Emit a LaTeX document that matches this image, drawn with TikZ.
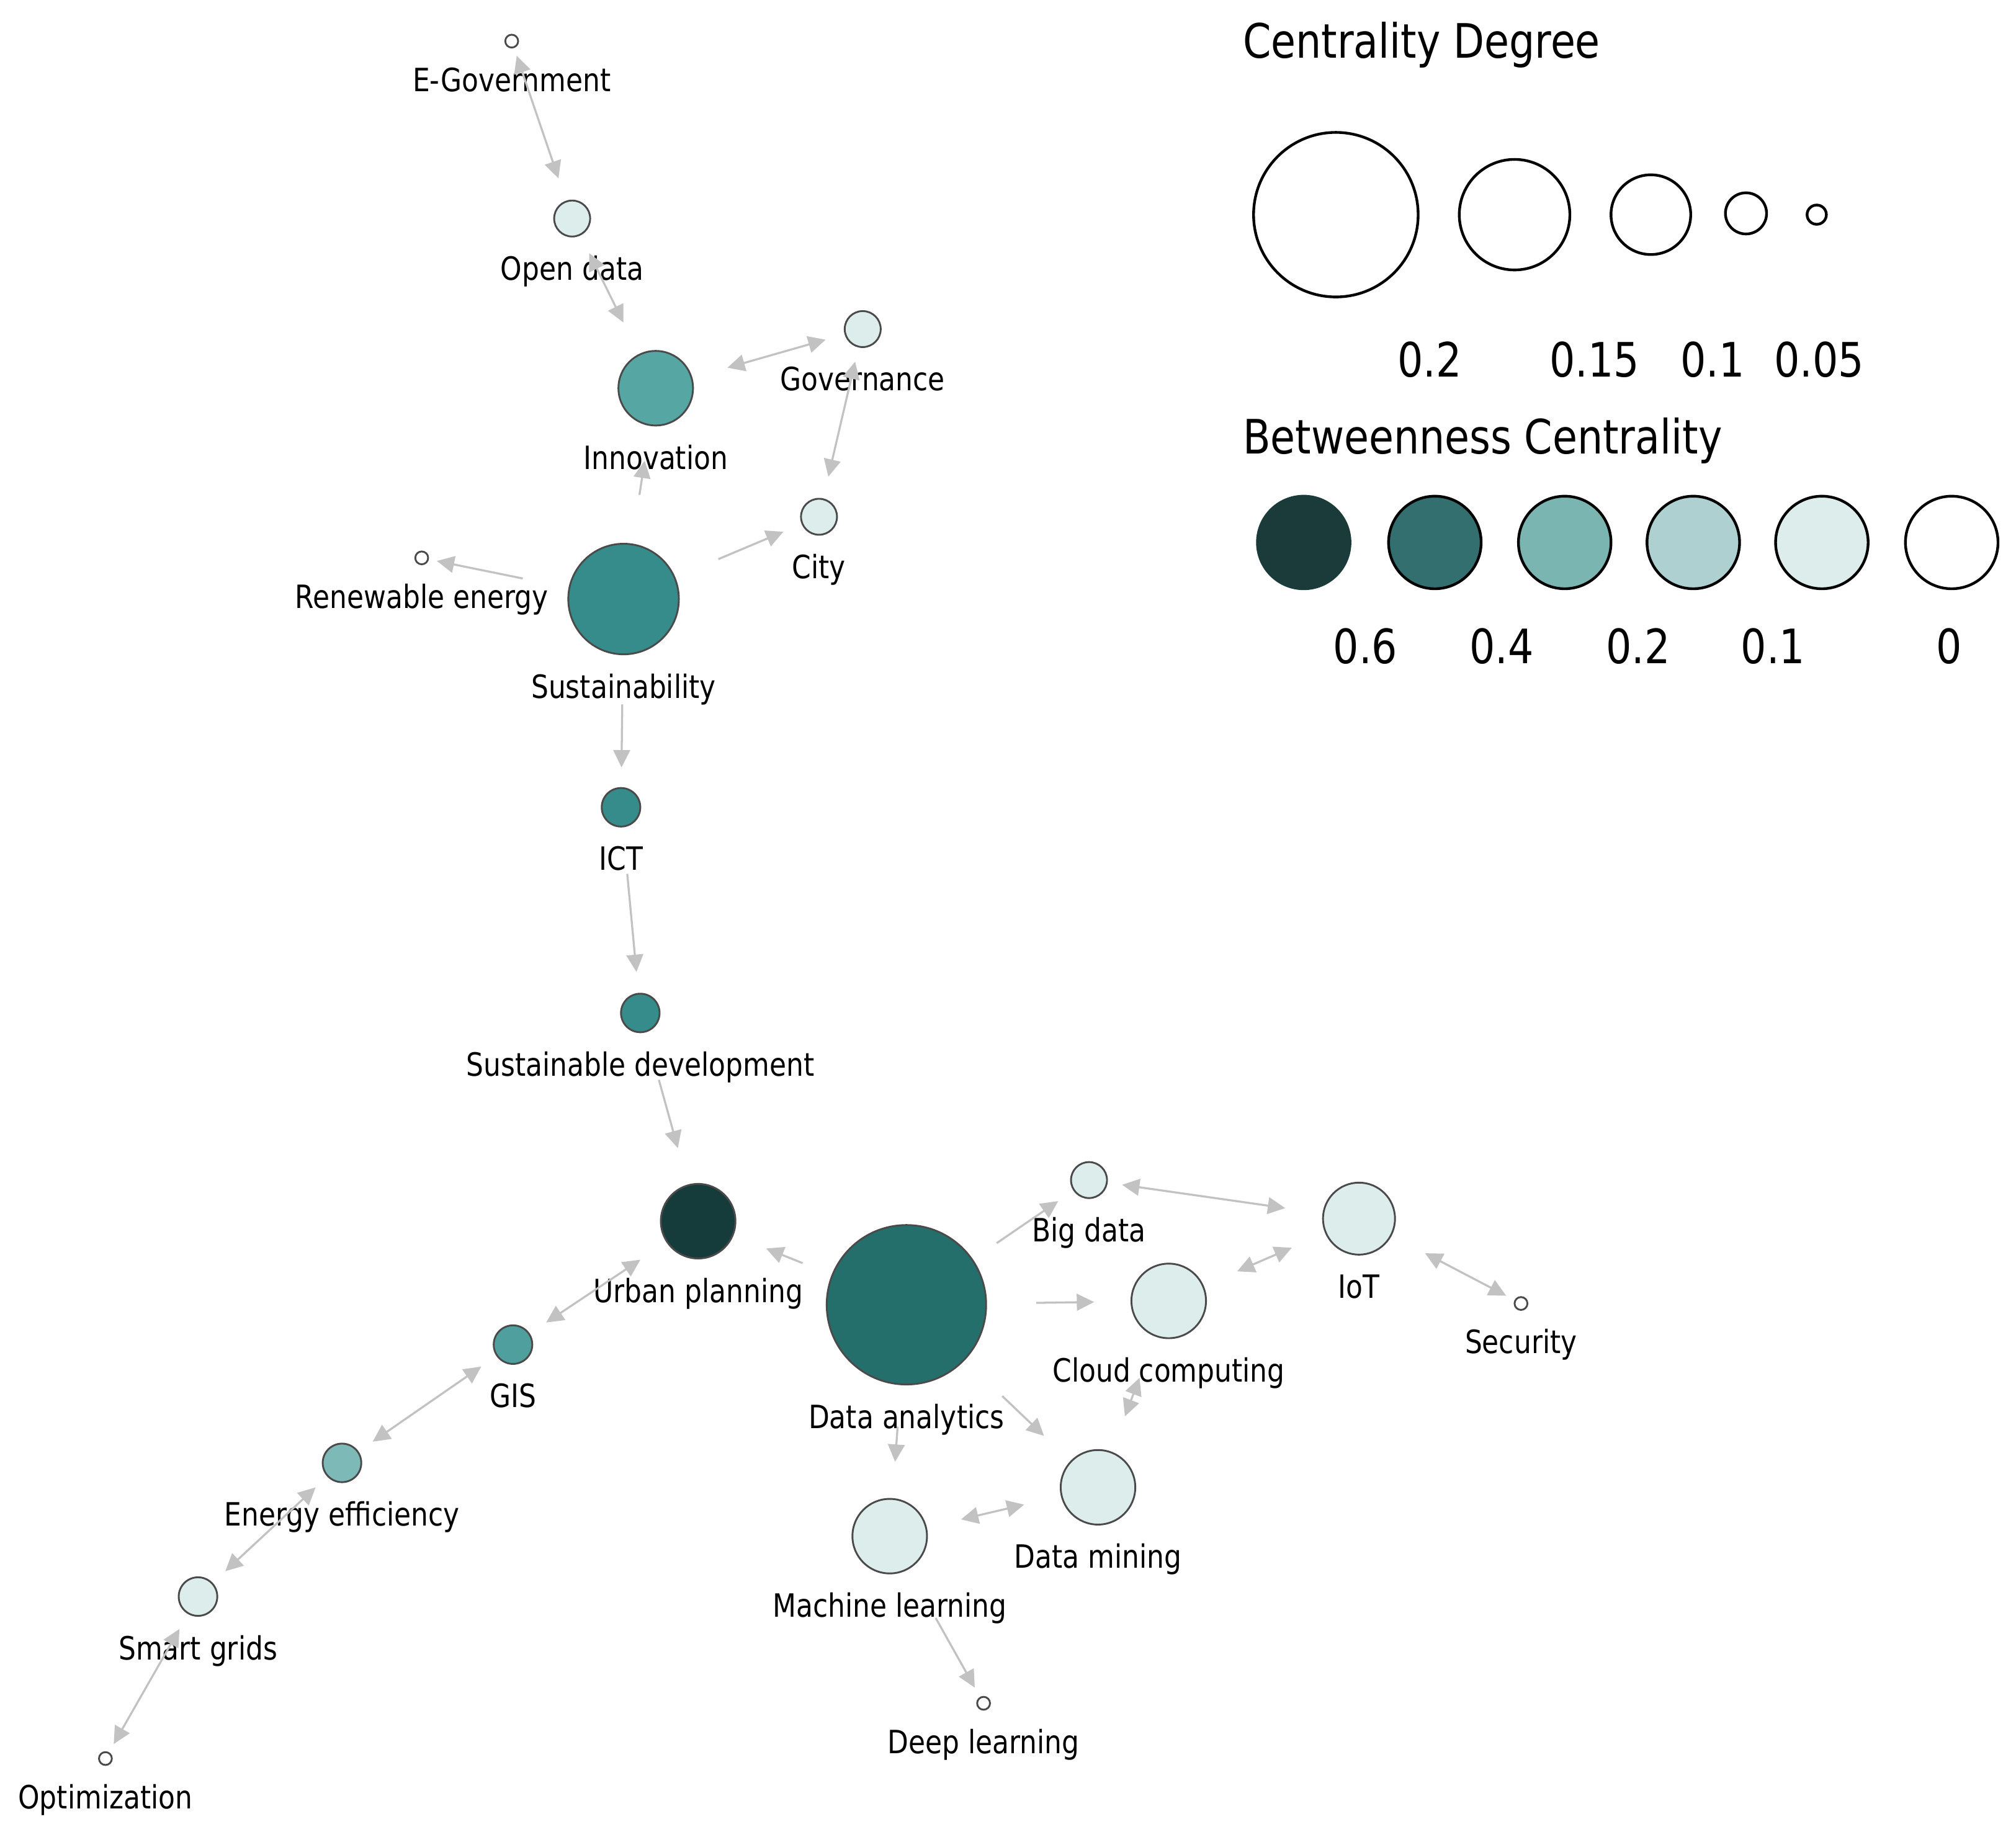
\documentclass[tikz,border=0pt]{standalone}
\usepackage{fontspec}
\setmainfont{DejaVu Sans}[FakeStretch=0.85]
\usepackage{xcolor}
\usepackage{tikz}
\usetikzlibrary{arrows.meta}

\definecolor{edgegray}{HTML}{C2C2C2}
\definecolor{nodeline}{HTML}{4A4A4A}
\definecolor{btwsix}{HTML}{1A3B39}
\definecolor{btwfour}{HTML}{346F6F}
\definecolor{btwtwo}{HTML}{7AB5B2}
\definecolor{btwone}{HTML}{AED0D0}
\definecolor{btwlow}{HTML}{DCEDEC}
\definecolor{urbanc}{HTML}{163B3B}
\definecolor{analyticsc}{HTML}{246E6C}
\definecolor{sustainc}{HTML}{358C8A}
\definecolor{innovc}{HTML}{56A6A3}
\definecolor{gisc}{HTML}{4E9F9D}
\definecolor{energyc}{HTML}{7DB9B7}

\newcommand\kwfont{\fontsize{7.1}{8.5}\selectfont}
\newcommand\legfont{\fontsize{10.5}{12.6}\selectfont}

\tikzset{
    kw/.style={circle, draw=nodeline, line width=0.4pt, inner sep=0pt, outer sep=0pt,
        label distance=0pt},
    lbl/.style={anchor=base, font=\kwfont, inner sep=0pt, yshift=-3.4mm},
    link/.style={draw=edgegray, line width=0.45pt},
    one/.style={link, -{Triangle[length=1.35mm, width=1.3mm]}},
    two/.style={link, {Triangle[length=1.35mm, width=1.3mm]}-{Triangle[length=1.35mm, width=1.3mm]}},
    legcirc/.style={circle, draw=black, line width=0.6pt, inner sep=0pt, outer sep=0pt},
    legtext/.style={anchor=base, font=\legfont, inner sep=0pt}
}

\begin{document}
\begin{tikzpicture}[x=0.1mm, y=-0.1mm]
    \path[fill=white, use as bounding box] (0,0) rectangle (1568,1425);

    % keywords
    \node[kw, fill=white, minimum size=1mm, label={[lbl]below:E-Government}] (egov) at (398,32) {};
    \node[kw, fill=btwlow, minimum size=2.8mm, label={[lbl]below:Open data}] (opendata) at (445,170) {};
    \node[kw, fill=innovc, minimum size=5.8mm, label={[lbl]below:Innovation}] (innov) at (510,302) {};
    \node[kw, fill=btwlow, minimum size=2.8mm, label={[lbl]below:Governance}] (gov) at (671,256) {};
    \node[kw, fill=btwlow, minimum size=2.8mm, label={[lbl]below:City}] (city) at (637,402) {};
    \node[kw, fill=white, minimum size=1mm, label={[lbl]below:Renewable energy}] (renew) at (328,434) {};
    \node[kw, fill=sustainc, minimum size=8.6mm, label={[lbl]below:Sustainability}] (sustain) at (485,466) {};
    \node[kw, fill=sustainc, minimum size=3mm, label={[lbl]below:ICT}] (ict) at (483,628) {};
    \node[kw, fill=sustainc, minimum size=3mm, label={[lbl]below:Sustainable development}] (sdev) at (498,788) {};
    \node[kw, fill=urbanc, minimum size=5.8mm, label={[lbl]below:Urban planning}] (urban) at (543,950) {};
    \node[kw, fill=analyticsc, minimum size=12.4mm, label={[lbl]below:Data analytics}] (analytics) at (705,1015) {};
    \node[kw, fill=btwlow, minimum size=2.8mm, label={[lbl]below:Big data}] (bigdata) at (847,918) {};
    \node[kw, fill=btwlow, minimum size=5.6mm, label={[lbl]below:IoT}] (iot) at (1057,948) {};
    \node[kw, fill=btwlow, minimum size=5.8mm, label={[lbl]below:Cloud computing}] (cloud) at (909,1012) {};
    \node[kw, fill=white, minimum size=1mm, label={[lbl]below:Security}] (security) at (1183,1014) {};
    \node[kw, fill=gisc, minimum size=3mm, label={[lbl]below:GIS}] (gis) at (399,1046) {};
    \node[kw, fill=energyc, minimum size=3mm, label={[lbl]below:Energy efficiency}] (energy) at (266,1138) {};
    \node[kw, fill=btwlow, minimum size=3mm, label={[lbl]below:Smart grids}] (smartgrid) at (154,1242) {};
    \node[kw, fill=white, minimum size=1mm, label={[lbl]below:Optimization}] (optim) at (82,1368) {};
    \node[kw, fill=btwlow, minimum size=5.8mm, label={[lbl]below:Machine learning}] (mlearn) at (692,1195) {};
    \node[kw, fill=btwlow, minimum size=5.8mm, label={[lbl]below:Data mining}] (dmining) at (854,1157) {};
    \node[kw, fill=white, minimum size=1mm, label={[lbl]below:Deep learning}] (dlearn) at (765,1325) {};

    % links
    \draw[two, shorten <=0.7mm, shorten >=1.9mm] (egov) -- (opendata);
    \draw[two, shorten <=1.6mm, shorten >=2.8mm] (opendata) -- (innov);
    \draw[two, shorten <=2.9mm, shorten >=1.6mm] (innov) -- (gov);
    \draw[two, shorten <=1.2mm, shorten >=1.8mm] (gov) -- (city);
    \draw[one, shorten <=3.9mm, shorten >=2.8mm] (sustain) -- (innov);
    \draw[one, shorten <=3.7mm, shorten >=1.6mm] (sustain) -- (city);
    \draw[one, shorten <=3.7mm, shorten >=0.7mm] (sustain) -- (renew);
    \draw[one, shorten <=3.9mm, shorten >=1.6mm] (sustain) -- (ict);
    \draw[one, shorten <=3.7mm, shorten >=1.7mm] (ict) -- (sdev);
    \draw[one, shorten <=3.9mm, shorten >=3.0mm] (sdev) -- (urban);
    \draw[one, shorten <=2.5mm, shorten >=2.8mm] (analytics) -- (urban);
    \draw[two, shorten <=2.5mm, shorten >=1.6mm] (urban) -- (gis);
    \draw[two, shorten <=1.5mm, shorten >=1.4mm] (gis) -- (energy);
    \draw[two, shorten <=1.3mm, shorten >=1.4mm] (energy) -- (smartgrid);
    \draw[two, shorten <=1.4mm, shorten >=0.8mm] (smartgrid) -- (optim);
    \draw[one, shorten <=2.3mm, shorten >=1.5mm] (analytics) -- (bigdata);
    \draw[two, shorten <=1.2mm, shorten >=3.0mm] (bigdata) -- (iot);
    \draw[one, shorten <=3.9mm, shorten >=2.9mm] (analytics) -- (cloud);
    \draw[two, shorten <=2.9mm, shorten >=2.9mm] (cloud) -- (iot);
    \draw[two, shorten <=3.0mm, shorten >=0.8mm] (iot) -- (security);
    \draw[one, shorten <=4.1mm, shorten >=2.9mm] (analytics) -- (dmining);
    \draw[two, shorten <=3.5mm, shorten >=3.0mm] (cloud) -- (dmining);
    \draw[one, shorten <=3.3mm, shorten >=2.9mm] (analytics) -- (mlearn);
    \draw[two, shorten <=2.8mm, shorten >=3.0mm] (mlearn) -- (dmining);
    \draw[one, shorten <=4.4mm, shorten >=0.9mm] (mlearn) -- (dlearn);

    % legend: centrality degree
    \node[legtext, anchor=base west] (degtitle) at (966,45) {Centrality Degree};
    \node[legcirc, minimum size=12.8mm] (degA) at (1039,167) {};
    \node[legcirc, minimum size=8.6mm] (degB) at (1178,167) {};
    \node[legcirc, minimum size=6.2mm] (degC) at (1284,167) {};
    \node[legcirc, minimum size=3.2mm] (degD) at (1358,166) {};
    \node[legcirc, minimum size=1.5mm] (degE) at (1413,167) {};
    \node[legtext] (degvA) at (1112,293) {0.2};
    \node[legtext] (degvB) at (1240,293) {0.15};
    \node[legtext] (degvC) at (1332,293) {0.1};
    \node[legtext] (degvD) at (1415,293) {0.05};

    % legend: betweenness centrality
    \node[legtext, anchor=base west] (btwtitle) at (966,353) {Betweenness Centrality};
    \node[legcirc, draw=btwsix, fill=btwsix, minimum size=7.2mm] (btwA) at (1014,422) {};
    \node[legcirc, fill=btwfour, minimum size=7.2mm] (btwB) at (1116,422) {};
    \node[legcirc, fill=btwtwo, minimum size=7.2mm] (btwC) at (1217,422) {};
    \node[legcirc, fill=btwone, minimum size=7.2mm] (btwD) at (1317,422) {};
    \node[legcirc, fill=btwlow, minimum size=7.2mm] (btwE) at (1417,422) {};
    \node[legcirc, fill=white, minimum size=7.2mm] (btwF) at (1518,422) {};
    \node[legtext] (btwvA) at (1062,516) {0.6};
    \node[legtext] (btwvB) at (1168,516) {0.4};
    \node[legtext] (btwvC) at (1274,516) {0.2};
    \node[legtext] (btwvD) at (1379,516) {0.1};
    \node[legtext] (btwvE) at (1516,516) {0};
\end{tikzpicture}
\end{document}
